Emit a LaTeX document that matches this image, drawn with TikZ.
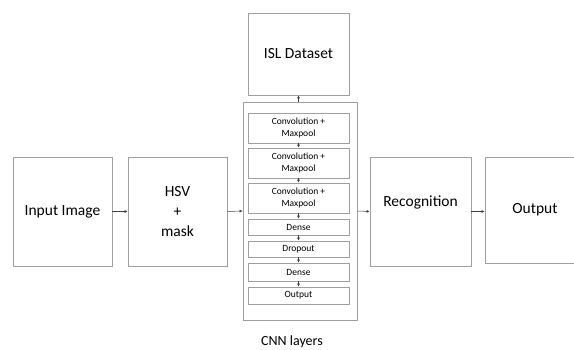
\documentclass[tikz,border=0pt]{standalone}
\usepackage{fontspec}
\setmainfont{Carlito}
\usetikzlibrary{arrows.meta}

\begin{document}
\begin{tikzpicture}[x=1pt, y=-1pt,
  block/.style={draw=gray!75, line width=0.8pt, align=center, inner sep=0pt,
    font=\fontsize{15.5}{20}\selectfont},
  layer/.style={draw=gray!75, line width=0.6pt, align=center, inner sep=0pt,
    minimum width=101, font=\fontsize{9.5}{11.5}\selectfont},
  link/.style={-{Latex[length=3pt,width=3pt]}, draw=gray!50!black, line width=0.5pt}]
\useasboundingbox (0,0) rectangle (574,350);
% main blocks
\node [block, minimum width=99, minimum height=109] (input) at (62.5,211.5) {Input Image};
\node [block, minimum width=99, minimum height=109] (hsv) at (177.5,211.5) {HSV\\+\\mask};
\node [block, minimum width=114, minimum height=218] (cnn) at (300,211) {};
\node [block, minimum width=101, minimum height=82] (isl) at (298.5,54) {ISL Dataset};
\node [block, minimum width=101, minimum height=109] (recog) at (420.5,211.5) {Recognition\\\mbox{}};
\node [block, minimum width=100, minimum height=106] (out) at (535,210) {Output};
\node [font=\fontsize{14}{16}\selectfont] (cnnlabel) at (292,342) {CNN layers};
% layers inside the CNN block
\node [layer, minimum height=30] (conv1) at (298.5,128) {Convolution +\\Maxpool};
\node [layer, minimum height=30] (conv2) at (298.5,163) {Convolution +\\Maxpool};
\node [layer, minimum height=30] (conv3) at (298.5,198) {Convolution +\\Maxpool};
\node [layer, minimum height=16] (dense1) at (298.5,227) {Dense};
\node [layer, minimum height=16] (drop) at (298.5,249) {Dropout};
\node [layer, minimum height=18] (dense2) at (298.5,272) {Dense};
\node [layer, minimum height=17] (lout) at (298.5,295.5) {Output};
% connectors
\draw [link] (input.east) -- (hsv.west);
\draw [link] (hsv.east) -- (cnn.west);
\draw [link] (cnn.east) -- (recog.west);
\draw [link] (recog.east) -- (out.west |- recog.east);
\draw [link] (cnn.north -| isl.south) -- (isl.south);
\draw [link] (conv1) -- (conv2);
\draw [link] (conv2) -- (conv3);
\draw [link] (conv3) -- (dense1);
\draw [link] (dense1) -- (drop);
\draw [link] (drop) -- (dense2);
\draw [link] (dense2) -- (lout);
\end{tikzpicture}
\end{document}
